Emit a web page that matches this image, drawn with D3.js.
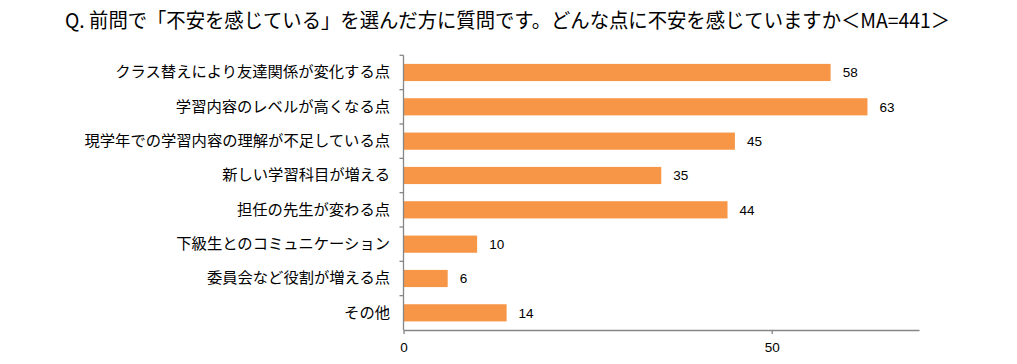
<!DOCTYPE html>
<html>
<head>
<meta charset="utf-8">
<script src="https://cdn.jsdelivr.net/npm/d3@7"></script>
<style>
  html, body { margin: 0; padding: 0; background: #ffffff; }
  svg { display: block; }
</style>
</head>
<body>
<svg id="chart" width="1017" height="364"></svg>
<script>
const titleText = "Q. 前問で「不安を感じている」を選んだ方に質問です。どんな点に不安を感じていますか＜MA=441＞";
const categories = [
  "クラス替えにより友達関係が変化する点",
  "学習内容のレベルが高くなる点",
  "現学年での学習内容の理解が不足している点",
  "新しい学習科目が増える",
  "担任の先生が変わる点",
  "下級生とのコミュニケーション",
  "委員会など役割が増える点",
  "その他"
];
const values = [58, 63, 45, 35, 44, 10, 6, 14];
const xTicks = [0, 50];
const xMax = 70;

const svg = d3.select("#chart");
const jp = "'Noto Sans CJK JP', 'Noto Sans', sans-serif";
const num = "'Liberation Sans', Arial, sans-serif";

const x0 = 403.5, x1 = 919, yTop = 55.3, yBot = 330;
const x = d3.scaleLinear().domain([0, xMax]).range([x0, x1]);
const y = d3.scaleBand().domain(categories).range([yTop, yBot]).paddingInner(0.5).paddingOuter(0.25);

// title
svg.append("text")
  .attr("x", 65).attr("y", 28)
  .attr("font-family", jp).attr("font-size", 20)
  .attr("textLength", 885).attr("lengthAdjust", "spacingAndGlyphs")
  .attr("fill", "#000")
  .text(titleText);

// bars
svg.append("g").selectAll("rect").data(categories).join("rect")
  .attr("x", x(0))
  .attr("y", d => y(d))
  .attr("width", (d, i) => x(values[i]) - x(0))
  .attr("height", y.bandwidth())
  .attr("fill", "#F79646");

// value labels
svg.append("g").selectAll("text").data(categories).join("text")
  .attr("x", (d, i) => x(values[i]) + 12)
  .attr("y", d => y(d) + y.bandwidth() / 2)
  .attr("dy", "0.36em")
  .attr("font-family", num).attr("font-size", 13.5)
  .attr("fill", "#000")
  .text((d, i) => values[i]);

// x axis
const xAxis = svg.append("g")
  .attr("transform", `translate(0,${yBot})`)
  .call(d3.axisBottom(x).tickValues(xTicks).tickSize(4).tickSizeOuter(0).tickPadding(8));
xAxis.select(".domain").attr("stroke", "#868686").attr("stroke-width", 1.3);
xAxis.selectAll(".tick line").attr("stroke", "#868686").attr("stroke-width", 1.3);
xAxis.selectAll(".tick text").attr("font-family", num).attr("font-size", 13.5).attr("fill", "#000");

// y axis: labels
const yAxis = svg.append("g")
  .attr("transform", `translate(${x0},0)`)
  .call(d3.axisLeft(y).tickSize(0).tickPadding(13.5));
yAxis.select(".domain").remove();
yAxis.selectAll(".tick text").attr("font-family", jp).attr("font-size", 15.3).attr("fill", "#000");

// y axis line and boundary ticks
const step = y.step();
const bounds = d3.range(categories.length + 1).map(i => yTop + i * step);
svg.append("line")
  .attr("x1", x0).attr("x2", x0).attr("y1", yTop).attr("y2", yBot)
  .attr("stroke", "#868686").attr("stroke-width", 1.3);
svg.append("g").selectAll("line").data(bounds.slice(0, -1)).join("line")
  .attr("x1", x0 - 4).attr("x2", x0).attr("y1", d => d).attr("y2", d => d)
  .attr("stroke", "#868686").attr("stroke-width", 1.3);
</script>
</body>
</html>
